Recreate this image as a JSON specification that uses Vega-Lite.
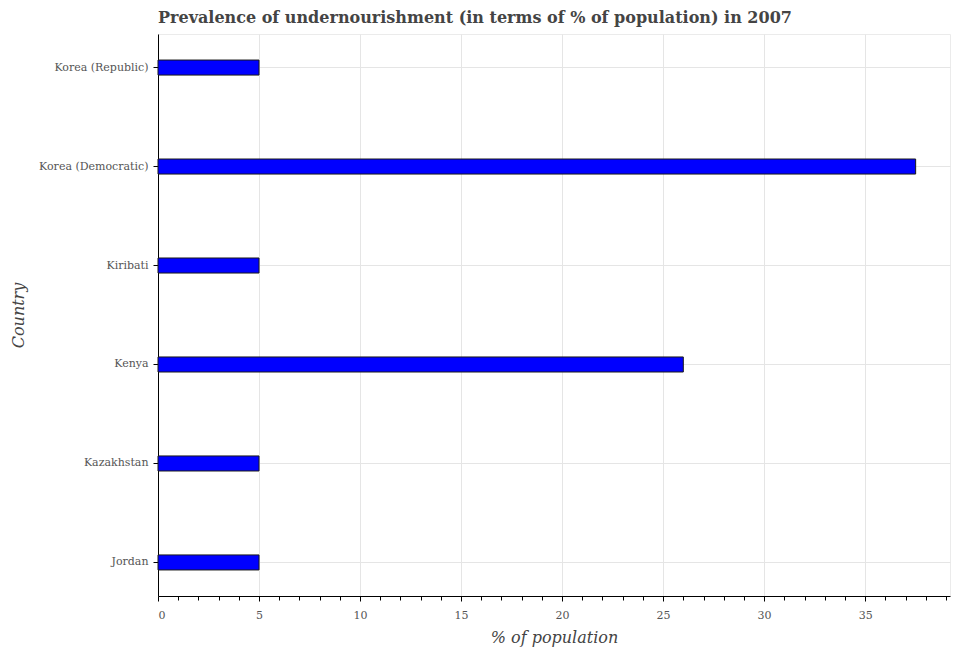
{
  "$schema": "https://vega.github.io/schema/vega-lite/v6.json",
  "autosize": "none",
  "padding": {"left": 158, "top": 34, "right": 5, "bottom": 54},
  "width": 792,
  "height": 562,
  "title": {
    "text": "Prevalence of undernourishment (in terms of % of population) in 2007",
    "anchor": "start",
    "frame": "group",
    "font": "DejaVu Serif",
    "fontSize": 16,
    "fontWeight": "bold",
    "color": "#444444",
    "offset": 8
  },
  "data": {
    "values": [
      {"country": "Jordan", "value": 5},
      {"country": "Kazakhstan", "value": 5},
      {"country": "Kenya", "value": 26},
      {"country": "Kiribati", "value": 5},
      {"country": "Korea (Democratic)", "value": 37.5},
      {"country": "Korea (Republic)", "value": 5}
    ]
  },
  "layer": [
    {
      "mark": {"type": "bar", "fill": "#0000ff", "stroke": "#1a1a1a", "strokeWidth": 1},
      "encoding": {
        "y": {
          "field": "country",
          "type": "nominal",
          "sort": "descending",
          "scale": {"paddingInner": 0.848, "paddingOuter": 0.263},
          "axis": {
            "title": "Country",
            "titleFont": "DejaVu Serif",
            "titleFontStyle": "italic",
            "titleFontWeight": "normal",
            "titleFontSize": 16,
            "titleColor": "#444444",
            "titlePadding": 12,
            "labelFont": "DejaVu Serif",
            "labelFontSize": 11,
            "labelColor": "#555555",
            "labelPadding": 5,
            "tickColor": "#000000",
            "tickSize": 5,
            "domainColor": "#000000",
            "gridColor": "#e5e5e5",
            "grid": true
          }
        },
        "x": {
          "field": "value",
          "type": "quantitative",
          "scale": {"domain": [0, 39.2], "nice": false},
          "axis": {
            "orient": "bottom",
            "title": "% of population",
            "values": [0, 5, 10, 15, 20, 25, 30, 35],
            "titleFont": "DejaVu Serif",
            "titleFontStyle": "italic",
            "titleFontWeight": "normal",
            "titleFontSize": 16,
            "titleColor": "#444444",
            "titlePadding": 9,
            "labelFont": "DejaVu Serif",
            "labelFontSize": 11,
            "labelColor": "#555555",
            "labelPadding": 8,
            "tickColor": "#000000",
            "tickSize": 5,
            "domainColor": "#000000",
            "gridColor": "#e5e5e5",
            "grid": true
          }
        }
      }
    },
    {
      "mark": {"type": "point", "opacity": 0},
      "encoding": {
        "x": {
          "field": "value",
          "type": "quantitative",
          "axis": {
            "orient": "bottom",
            "title": null,
            "labels": false,
            "grid": false,
            "domain": false,
            "tickColor": "#000000",
            "tickSize": 4,
            "values": [1, 2, 3, 4, 6, 7, 8, 9, 11, 12, 13, 14, 16, 17, 18, 19, 21, 22, 23, 24, 26, 27, 28, 29, 31, 32, 33, 34, 36, 37, 38, 39]
          }
        }
      }
    }
  ],
  "resolve": {"axis": {"x": "independent"}},
  "config": {
    "view": {"stroke": "#ebebeb"},
    "background": "#ffffff"
  }
}
